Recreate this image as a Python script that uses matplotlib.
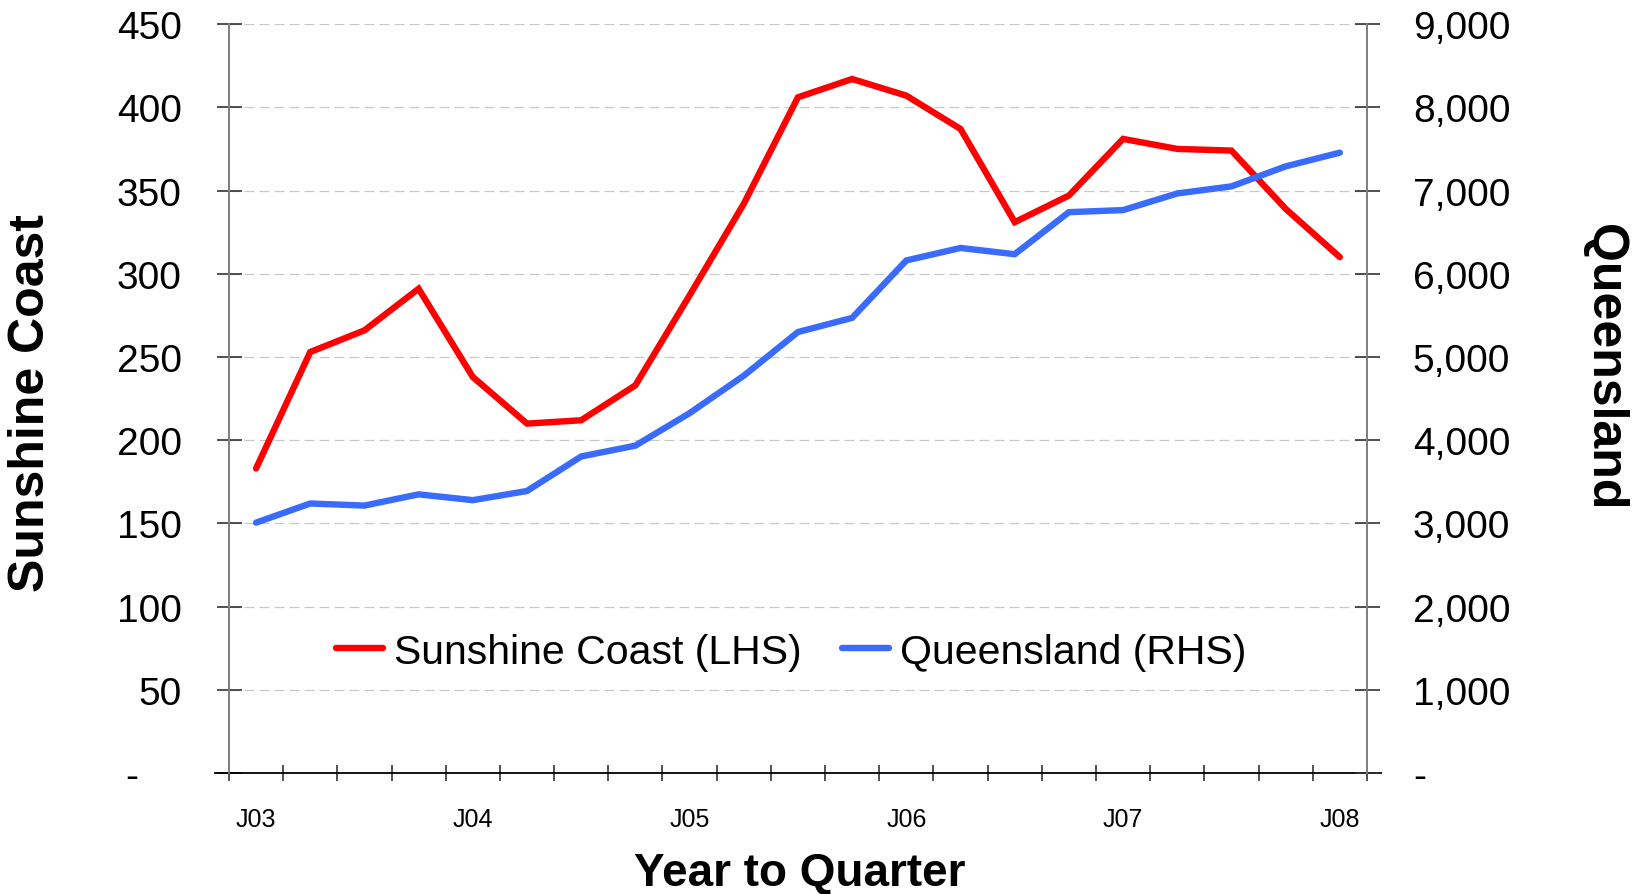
import matplotlib
matplotlib.use("Agg")
import matplotlib.pyplot as plt
import numpy as np
from matplotlib.ticker import FixedLocator, FuncFormatter

plt.rcParams['font.family'] = ['Liberation Sans', 'DejaVu Sans']

# Quarterly data, June 2003 to June 2008
quarters = ['J03', 'S03', 'D03', 'M04', 'J04', 'S04', 'D04', 'M05', 'J05', 'S05', 'D05',
            'M06', 'J06', 'S06', 'D06', 'M07', 'J07', 'S07', 'D07', 'M08', 'J08']
sunshine_coast = [183, 253, 266, 291, 238, 210, 212, 233, 287, 342, 406,
                  417, 407, 387, 331, 347, 381, 375, 374, 339, 310]
queensland = [3010, 3240, 3215, 3350, 3280, 3390, 3805, 3935, 4325, 4775, 5300,
              5470, 6160, 6310, 6235, 6740, 6765, 6965, 7050, 7290, 7455]
label_every = 4

COLOR_SC = '#ff0000'
COLOR_QLD = '#3a6bff'
COLOR_AXIS = '#808080'

fig = plt.figure(figsize=(16.4, 8.95), dpi=100)
ax = fig.add_axes([0.1396, 0.135, 0.6939, 0.837])
ax2 = ax.twinx()

x = np.arange(len(quarters))
ln1, = ax.plot(x, sunshine_coast, color=COLOR_SC, lw=4.6, solid_capstyle='round',
               solid_joinstyle='miter', label='Sunshine Coast (LHS)', zorder=3)
ln2, = ax2.plot(x, queensland, color=COLOR_QLD, lw=4.6, solid_capstyle='round',
                solid_joinstyle='miter', label='Queensland (RHS)', zorder=3)

ax.set_xlim(-0.5, len(quarters) - 0.5)
ax.set_ylim(0, 450)
ax2.set_ylim(0, 9000)

# y axes
ax.set_yticks(np.arange(0, 451, 50))
ax.yaxis.set_major_formatter(FuncFormatter(lambda v, p: '-    ' if v == 0 else f'{v:,.0f}'))
ax2.set_yticks(np.arange(0, 9001, 1000))
ax2.yaxis.set_major_formatter(FuncFormatter(lambda v, p: '-' if v == 0 else f'{v:,.0f}'))
ax.tick_params(axis='y', direction='inout', length=18, width=1.2, color='#333333',
               labelsize=28, pad=25)
ax2.tick_params(axis='y', direction='inout', length=18, width=1.2, color='#333333',
                labelsize=28, pad=24)

# x axis: labels every 4th quarter, ticks at category boundaries
ax.xaxis.set_major_locator(FixedLocator(x[::label_every]))
ax.set_xticklabels([quarters[i] for i in x[::label_every]])
ax.xaxis.set_minor_locator(FixedLocator(np.arange(-0.5, len(quarters), 1)))
ax.tick_params(axis='x', which='major', length=0, labelsize=18, pad=24)
ax.tick_params(axis='x', which='minor', direction='inout', length=12, width=1.2, color='#333333')

# grid
ax.yaxis.grid(True, linestyle=(0, (8, 4)), color='#c8c8c8', lw=0.9, zorder=0)
ax.set_axisbelow(True)

for a in (ax, ax2):
    a.spines['top'].set_visible(False)
    a.spines['left'].set_color(COLOR_AXIS)
    a.spines['right'].set_color(COLOR_AXIS)
    a.spines['left'].set_linewidth(1.3)
    a.spines['right'].set_linewidth(1.3)
    a.spines['bottom'].set_color('black')
    a.spines['bottom'].set_linewidth(1.3)
ax2.spines['bottom'].set_visible(False)
ax.spines['bottom'].set_bounds(-0.76, len(quarters) - 0.24)

# axis titles
fig.text(0.019, 1 - 403 / 895, 'Sunshine Coast', rotation=90, ha='center', va='center',
         fontsize=36, fontweight='bold')
fig.text(0.978, 1 - 367 / 895, 'Queensland', rotation=270, ha='center', va='center',
         fontsize=36, fontweight='bold')
fig.text(800 / 1640, 1 - 886 / 895, 'Year to Quarter', ha='center', va='baseline',
         fontsize=33, fontweight='bold')

ax.legend(handles=[ln1, ln2], loc='center', bbox_to_anchor=(0.494, 0.162), ncol=2,
          frameon=False, fontsize=29.5, handlelength=1.15, handletextpad=0.25,
          columnspacing=1.0)

fig.savefig('out.png', dpi=100, facecolor='white')
